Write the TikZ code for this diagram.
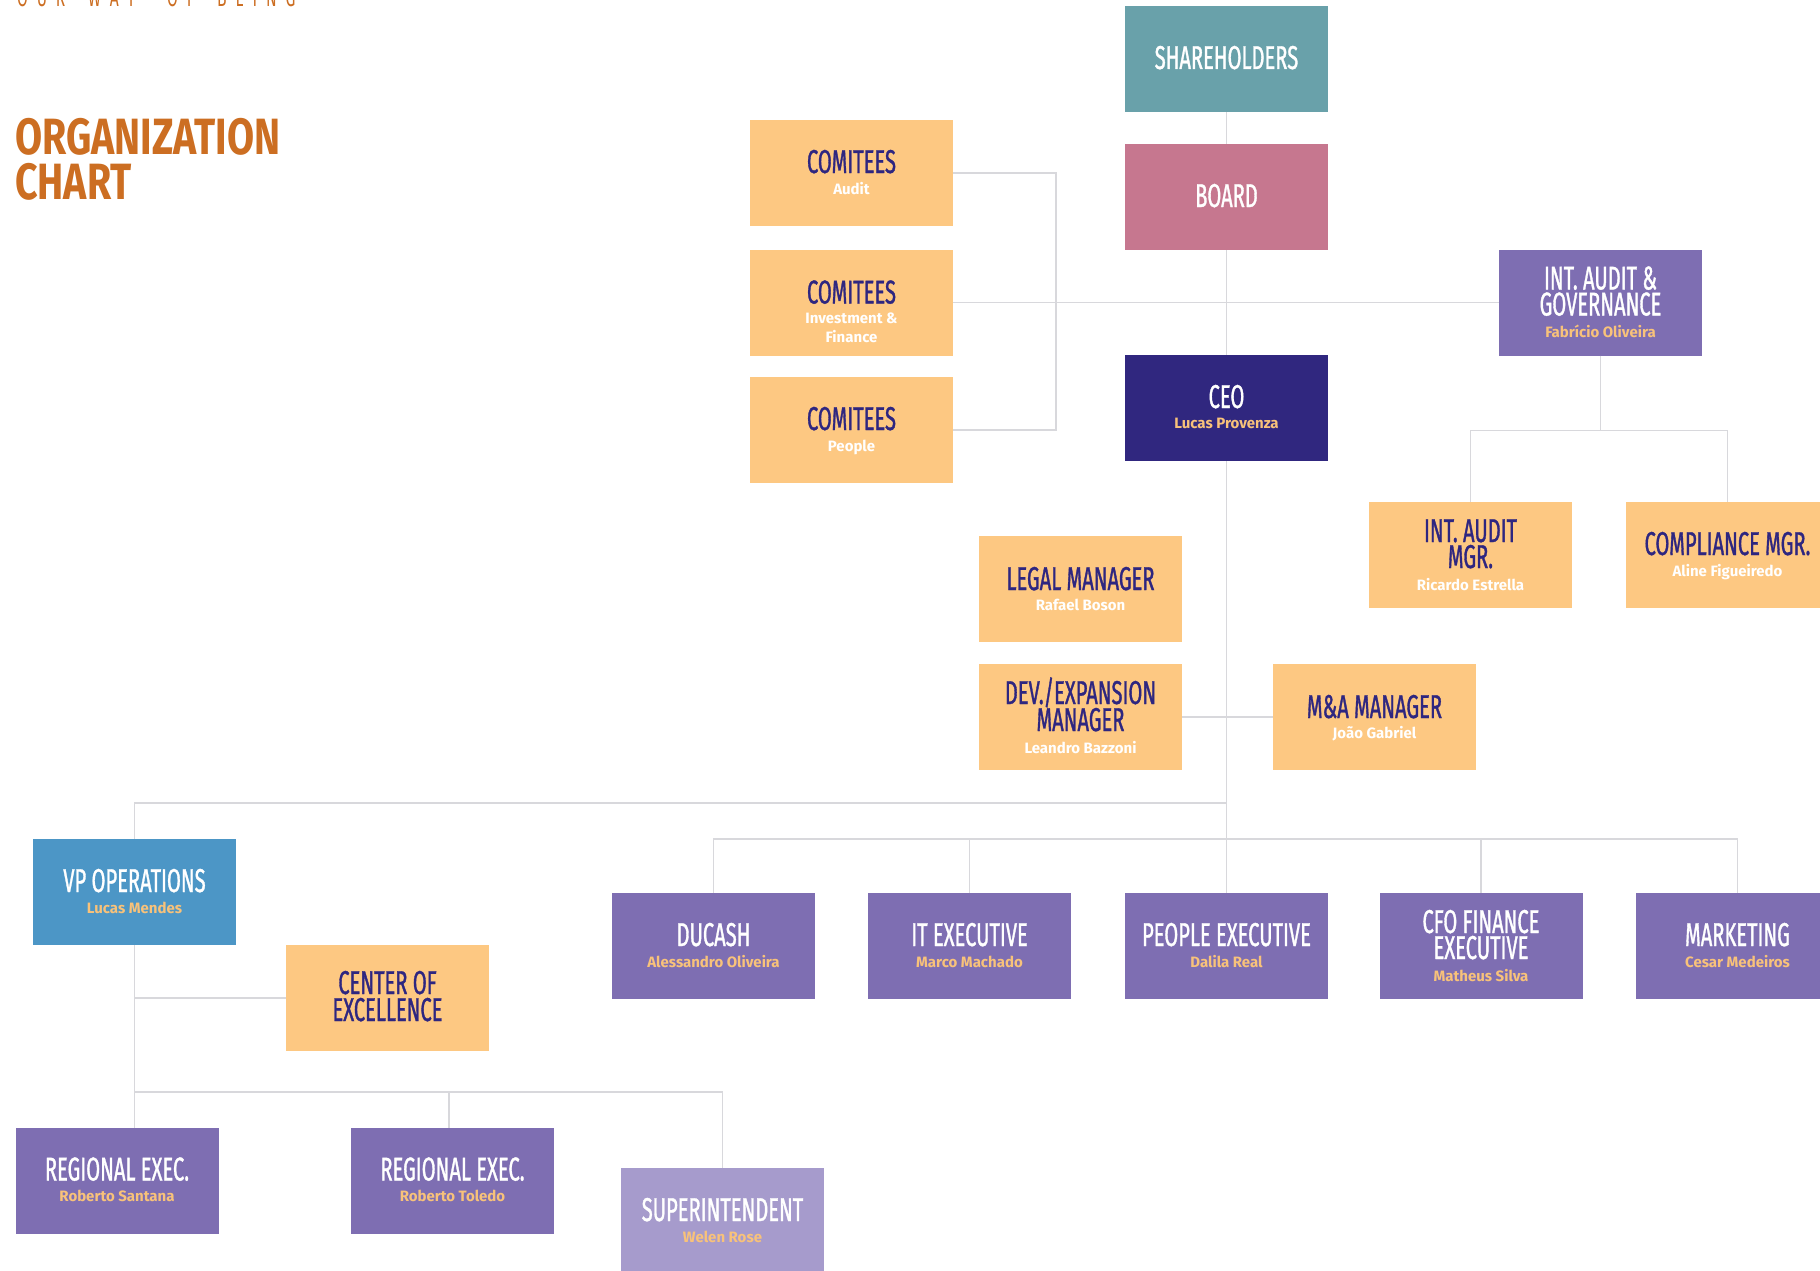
\documentclass[tikz,border=0pt]{standalone}
\usepackage{fontspec}
\usetikzlibrary{calc}
\setmainfont{Fira Sans}
\newfontfamily\hdfont[FakeStretch=0.61,FakeBold=1]{Fira Sans}
\newfontfamily\titlefont[FakeStretch=0.77]{Fira Sans}
\newfontfamily\topfont[FakeStretch=0.6,LetterSpace=34]{Fira Sans}
\newfontfamily\nmfont{Fira Sans}
\definecolor{cSh}{HTML}{69A1AA}
\definecolor{cBoard}{HTML}{C6778F}
\definecolor{cCeo}{HTML}{30277F}
\definecolor{cPur}{HTML}{7E6EB2}
\definecolor{cPurL}{HTML}{A69BCC}
\definecolor{cOr}{HTML}{FDC882}
\definecolor{cVp}{HTML}{4C96C6}
\definecolor{cNavy}{HTML}{2E2680}
\definecolor{cName}{HTML}{F8C27A}
\definecolor{cTitle}{HTML}{CC6E22}
\definecolor{cLine}{HTML}{D8D8DC}
\begin{document}
\begin{tikzpicture}[x=1pt,y=-1pt,
  box/.style={minimum width=203pt,minimum height=106pt,inner sep=0pt,outer sep=0pt},
  hd/.style={anchor=base,inner sep=0pt,font=\hdfont\fontsize{33}{33}\selectfont},
  hdw/.style={hd,text=white},
  hdn/.style={hd,text=cNavy},
  nm/.style={anchor=base,inner sep=0pt,font=\nmfont\bfseries\fontsize{15}{15}\selectfont},
  nmw/.style={nm,text=white},
  nmo/.style={nm,text=cName},
  ln/.style={draw=cLine,line width=1.6pt},
  toptx/.style={anchor=base west,inner sep=0pt,text=cTitle,font=\topfont\fontsize{26}{26}\selectfont},
  ttl/.style={anchor=base west,inner sep=0pt,text=cTitle,font=\titlefont\bfseries\fontsize{51}{46}\selectfont}]
\useasboundingbox (0,0) rectangle (1820,1271);
\clip (0,0) rectangle (1820,1271);
\fill[white] (0,0) rectangle (1820,1271);

% header texts
\node[toptx] (w1) at (17,7) {OUR};
\node[toptx] (w2) at (88,7) {WAY};
\node[toptx] (w3) at (167,7) {OF};
\node[toptx] (w4) at (217,7) {BEING};
\node[ttl] (t1) at (15,154) {ORGANIZATION};
\node[ttl] (t2) at (15,199) {CHART};

% boxes
\node[box,fill=cSh] (sh) at (1226.5,59) {};
\node[box,fill=cBoard] (bd) at (1226.5,197) {};
\node[box,fill=cOr] (c1) at (851.5,173) {};
\node[box,fill=cOr] (c2) at (851.5,302.5) {};
\node[box,fill=cOr] (c3) at (851.5,430) {};
\node[box,fill=cPur] (iag) at (1600.5,302.5) {};
\node[box,fill=cCeo] (ceo) at (1226.5,408) {};
\node[box,fill=cOr] (iam) at (1470.5,555) {};
\node[box,fill=cOr] (cmp) at (1727.5,555) {};
\node[box,fill=cOr] (lg) at (1080.5,589) {};
\node[box,fill=cOr] (dev) at (1080.5,717) {};
\node[box,fill=cOr] (ma) at (1374.5,717) {};
\node[box,fill=cVp] (vp) at (134.5,892) {};
\node[box,fill=cOr] (coe) at (387.5,998) {};
\node[box,fill=cPur] (re1) at (117,1180.5) {};
\node[box,fill=cPur] (re2) at (452.5,1180.5) {};
\node[box,fill=cPurL] (sup) at (722.5,1221) {};
\node[box,fill=cPur] (du) at (713.5,946) {};
\node[box,fill=cPur] (it) at (969.5,946) {};
\node[box,fill=cPur] (pe) at (1226.5,946) {};
\node[box,fill=cPur] (cfo) at (1481,946) {};
\node[box,fill=cPur] (mk) at (1737.5,946) {};

% connectors
\draw[ln] (sh.south) -- (bd.north);
\draw[ln] (bd.south) -- (ceo.north);
\coordinate (br) at (1056,302.5);
\draw[ln] (c1.east) -- (c1.east -| br) -- (c3.east -| br) -- (c3.east);
\draw[ln] (c2.east) -- (iag.west);
\draw[ln] (iag.south) -- ++(0,75) coordinate (ja);
\draw[ln] (iam.north) -- (iam.north |- ja) -- (cmp.north |- ja) -- (cmp.north);
\draw[ln] (ceo.south) -- (pe.north);
\draw[ln] (dev.east) -- (ma.west);
\coordinate (jv) at (1226.5,803);
\draw[ln] (jv) -| (vp.north);
\coordinate (jb) at (1226.5,839);
\draw[ln] (du.north) |- (jb) -| (mk.north);
\draw[ln] (it.north) -- (it.north |- jb);
\draw[ln] (cfo.north) -- (cfo.north |- jb);
\coordinate (jr) at (134.5,1092);
\draw[ln] (vp.south) -- (jr);
\draw[ln] (vp.south |- coe.west) -- (coe.west);
\draw[ln] (jr) -- (re1.north -| jr);
\draw[ln] (jr) -| (sup.north);
\coordinate (jr2) at (449,1092);
\draw[ln] (jr2) -- (re2.north -| jr2);

% texts
\node[hdw] (shT) at ($(sh.center)+(0,10)$) {SHAREHOLDERS};
\node[hdw] (bdT) at ($(bd.center)+(0,10)$) {BOARD};
\node[hdn] (c1T) at ($(c1.center)+(0,0)$) {COMITEES};
\node[nmw] (c1N) at ($(c1.center)+(0,21)$) {Audit};
\node[hdn] (c2T) at ($(c2.center)+(0,1)$) {COMITEES};
\node[nmw] (c2N) at ($(c2.center)+(0,21)$) {Investment \&};
\node[nmw] (c2M) at ($(c2.center)+(0,40)$) {Finance};
\node[hdn] (c3T) at ($(c3.center)+(0,0)$) {COMITEES};
\node[nmw] (c3N) at ($(c3.center)+(0,21)$) {People};
\node[hdw] (iagT) at ($(iag.center)+(0,-13)$) {INT. AUDIT \&};
\node[hdw] (iagU) at ($(iag.center)+(0,13)$) {GOVERNANCE};
\node[nmo] (iagN) at ($(iag.center)+(0,35)$) {Fabrício Oliveira};
\node[hdw] (ceoT) at ($(ceo.center)+(0,0)$) {CEO};
\node[nmo] (ceoN) at ($(ceo.center)+(0,20)$) {Lucas Provenza};
\node[hdn] (iamT) at ($(iam.center)+(0,-13)$) {INT. AUDIT};
\node[hdn] (iamU) at ($(iam.center)+(0,13)$) {MGR.};
\node[nmw] (iamN) at ($(iam.center)+(0,35)$) {Ricardo Estrella};
\node[hdn] (cmpT) at ($(cmp.center)+(0,0)$) {COMPLIANCE MGR.};
\node[nmw] (cmpN) at ($(cmp.center)+(0,21)$) {Aline Figueiredo};
\node[hdn] (lgT) at ($(lg.center)+(0,1)$) {LEGAL MANAGER};
\node[nmw] (lgN) at ($(lg.center)+(0,21)$) {Rafael Boson};
\node[hdn] (devT) at ($(dev.center)+(0,-13)$) {DEV./EXPANSION};
\node[hdn] (devU) at ($(dev.center)+(0,14)$) {MANAGER};
\node[nmw] (devN) at ($(dev.center)+(0,36)$) {Leandro Bazzoni};
\node[hdn] (maT) at ($(ma.center)+(0,1)$) {M\&A MANAGER};
\node[nmw] (maN) at ($(ma.center)+(0,21)$) {João Gabriel};
\node[hdw] (vpT) at ($(vp.center)+(0,0)$) {VP OPERATIONS};
\node[nmo] (vpN) at ($(vp.center)+(0,21)$) {Lucas Mendes};
\node[hdn] (coeT) at ($(coe.center)+(0,-4)$) {CENTER OF};
\node[hdn] (coeU) at ($(coe.center)+(0,23)$) {EXCELLENCE};
\node[hdw] (re1T) at ($(re1.center)+(0,0)$) {REGIONAL EXEC.};
\node[nmo] (re1N) at ($(re1.center)+(0,21)$) {Roberto Santana};
\node[hdw] (re2T) at ($(re2.center)+(0,0)$) {REGIONAL EXEC.};
\node[nmo] (re2N) at ($(re2.center)+(0,21)$) {Roberto Toledo};
\node[hdw] (supT) at ($(sup.center)+(0,0)$) {SUPERINTENDENT};
\node[nmo] (supN) at ($(sup.center)+(0,21)$) {Welen Rose};
\node[hdw] (duT) at ($(du.center)+(0,0)$) {DUCASH};
\node[nmo] (duN) at ($(du.center)+(0,21)$) {Alessandro Oliveira};
\node[hdw] (itT) at ($(it.center)+(0,0)$) {IT EXECUTIVE};
\node[nmo] (itN) at ($(it.center)+(0,21)$) {Marco Machado};
\node[hdw] (peT) at ($(pe.center)+(0,0)$) {PEOPLE EXECUTIVE};
\node[nmo] (peN) at ($(pe.center)+(0,21)$) {Dalila Real};
\node[hdw] (cfoT) at ($(cfo.center)+(0,-13)$) {CFO FINANCE};
\node[hdw] (cfoU) at ($(cfo.center)+(0,13)$) {EXECUTIVE};
\node[nmo] (cfoN) at ($(cfo.center)+(0,35)$) {Matheus Silva};
\node[hdw] (mkT) at ($(mk.center)+(0,0)$) {MARKETING};
\node[nmo] (mkN) at ($(mk.center)+(0,21)$) {Cesar Medeiros};
\end{tikzpicture}
\end{document}
